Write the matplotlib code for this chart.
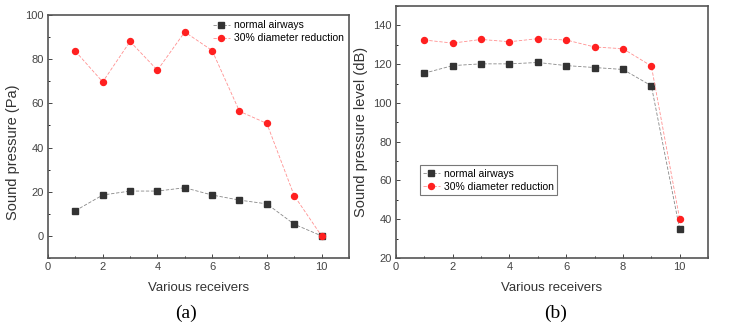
import matplotlib
matplotlib.use("Agg")
import matplotlib.pyplot as plt
from matplotlib.ticker import MultipleLocator

plt.rcParams["font.family"] = ["Liberation Sans", "DejaVu Sans"]

# data
receivers = [1, 2, 3, 4, 5, 6, 7, 8, 9, 10]
pa_normal = [11.4, 18.5, 20.3, 20.3, 21.8, 18.5, 16.2, 14.5, 5.3, 0]
pa_reduced = [83.6, 69.7, 88.0, 75.0, 92.3, 83.9, 56.4, 50.9, 18.2, 0]
db_normal = [115.4, 119.3, 120.2, 120.2, 120.9, 119.3, 118.3, 117.3, 108.9, 34.8]
db_reduced = [132.5, 130.9, 132.8, 131.6, 133.2, 132.5, 128.9, 128.0, 119.1, 40.0]
labels = ["normal airways", "30% diameter reduction"]


def draw_panel(ax, normal, reduced):
    ax.plot(receivers, normal, ls=(0, (4, 2)), lw=0.6, color="#888888",
            marker="s", ms=3.8, mfc="#333333", mec="#333333", label=labels[0])
    ax.plot(receivers, reduced, ls=(0, (4, 2)), lw=0.6, color="#ff9090",
            marker="o", ms=4.3, mfc="#ff2020", mec="#ff2020", label=labels[1])
    ax.set_xlim(0, 11)
    ax.xaxis.set_major_locator(MultipleLocator(2))
    ax.xaxis.set_minor_locator(MultipleLocator(1))
    ax.set_xlabel("Various receivers", fontsize=9.5, color="#333333", labelpad=7)
    ax.tick_params(direction="in", labelsize=8, colors="#444444", length=3,
                   width=0.7, pad=3)
    ax.tick_params(which="minor", direction="in", length=1.5, width=0.6)
    for s in ax.spines.values():
        s.set_color("#555555")
        s.set_linewidth(1.2)


fig = plt.figure(figsize=(7.43, 3.28), dpi=100)

ax1 = fig.add_axes([0.0646, 0.2134, 0.405, 0.741])
draw_panel(ax1, pa_normal, pa_reduced)
ax1.set_ylim(-10, 100)
ax1.yaxis.set_major_locator(MultipleLocator(20))
ax1.yaxis.set_minor_locator(MultipleLocator(10))
ax1.set_ylabel("Sound pressure (Pa)", fontsize=10.5, color="#333333")
ax1.yaxis.set_label_coords(-0.092, 0.436)
ax1.legend(loc="upper right", frameon=False, fontsize=7.5, handlelength=1.6,
           borderaxespad=0.1, labelspacing=0.3, handletextpad=0.4)

ax2 = fig.add_axes([0.533, 0.2134, 0.42, 0.768])
draw_panel(ax2, db_normal, db_reduced)
ax2.set_ylim(20, 150)
ax2.yaxis.set_major_locator(MultipleLocator(20))
ax2.yaxis.set_minor_locator(MultipleLocator(10))
ax2.set_ylabel("Sound pressure level (dB)", fontsize=10.5, color="#333333", labelpad=4)
leg = ax2.legend(loc="lower left", bbox_to_anchor=(0.06, 0.23), fontsize=7.5,
                 handlelength=1.6, labelspacing=0.3, handletextpad=0.4,
                 borderpad=0.3, fancybox=False)
leg.get_frame().set_edgecolor("#555555")
leg.get_frame().set_linewidth(0.8)

fig.text(0.236, 0.03, "(a)", fontsize=14, family="Liberation Serif")
fig.text(0.732, 0.03, "(b)", fontsize=14, family="Liberation Serif")

fig.savefig("out.png", dpi=100)
